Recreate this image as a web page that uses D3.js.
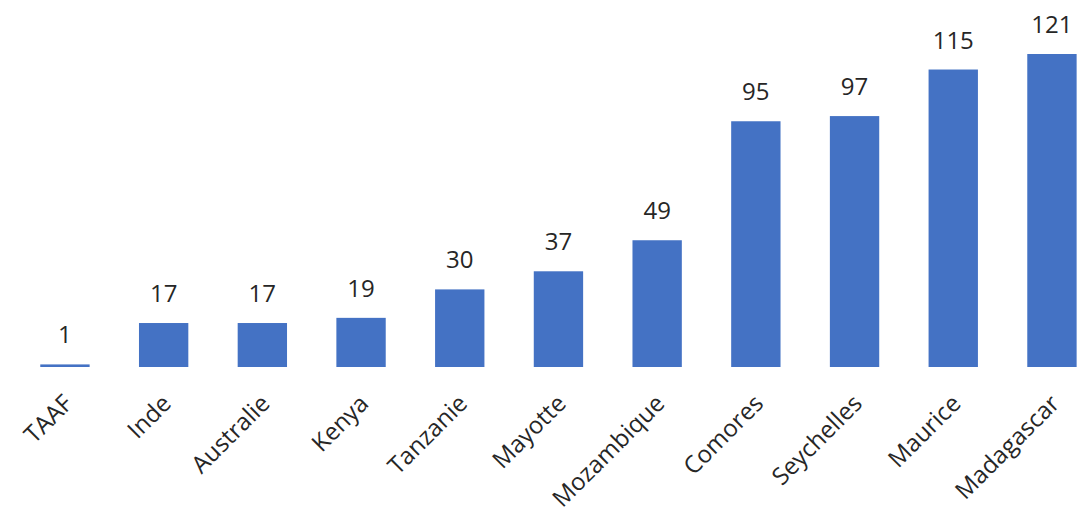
<!DOCTYPE html>
<html><head><meta charset="utf-8">
<script src="https://cdn.jsdelivr.net/npm/d3@7"></script>
<style>body{margin:0;background:#fff;} text{font-family:"Open Sans",sans-serif;}</style>
</head><body>
<svg id="chart" width="1077" height="510"></svg>
<script>
const categories = ["TAAF","Inde","Australie","Kenya","Tanzanie","Mayotte","Mozambique","Comores","Seychelles","Maurice","Madagascar"];
const values = [1,17,17,19,30,37,49,95,97,115,121];

const svg = d3.select("#chart");
const baseY = 367;
const x = d3.scaleBand().domain(categories).range([15.6, 1101.3]).paddingInner(0.5).paddingOuter(0.25);
const y = d3.scaleLinear().domain([0, 121]).range([baseY, 54]);

svg.selectAll("rect.bar").data(values).enter().append("rect")
  .attr("class","bar")
  .attr("x",(d,i)=>x(categories[i]))
  .attr("width",x.bandwidth())
  .attr("y",d=>y(d))
  .attr("height",d=>baseY-y(d))
  .attr("fill","#4472C4");

svg.selectAll("text.val").data(values).enter().append("text")
  .attr("class","val")
  .attr("x",(d,i)=>x(categories[i])+x.bandwidth()/2)
  .attr("y",d=>y(d)-21)
  .attr("text-anchor","middle")
  .attr("font-size",24)
  .attr("fill","#262626")
  .text(d=>d);

svg.selectAll("text.cat").data(categories).enter().append("text")
  .attr("class","cat")
  .attr("transform",d=>`translate(${x(d)+x.bandwidth()/2+9},405) rotate(-45)`)
  .attr("text-anchor","end")
  .attr("font-size",24)
  .attr("fill","#262626")
  .text(d=>d);
</script>
</body></html>
